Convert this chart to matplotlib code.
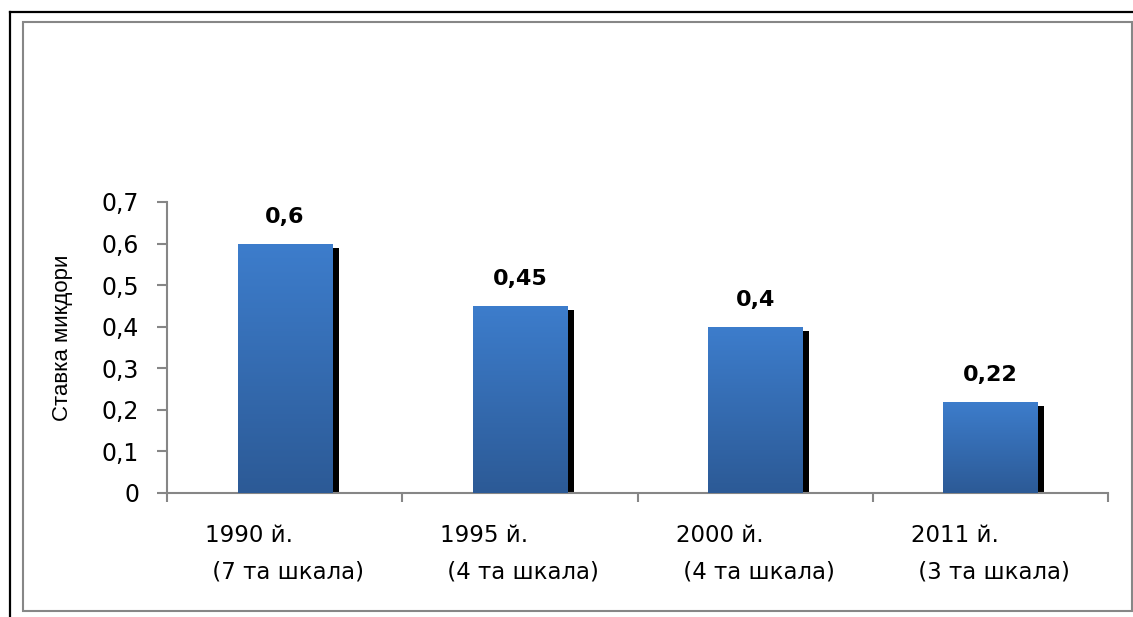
import numpy as np
import matplotlib
matplotlib.use('Agg')
import matplotlib.pyplot as plt
from matplotlib import font_manager
from matplotlib.patches import Rectangle
from matplotlib.lines import Line2D
import matplotlib.transforms as mtransforms
from matplotlib.colors import LinearSegmentedColormap

# ---- data ----
categories = ["1990 й.\n (7 та шкала)", "1995 й.\n (4 та шкала)",
              "2000 й.\n (4 та шкала)", "2011 й.\n (3 та шкала)"]
values = [0.6, 0.45, 0.4, 0.22]
value_labels = ["0,6", "0,45", "0,4", "0,22"]
y_ticks = [0.0, 0.1, 0.2, 0.3, 0.4, 0.5, 0.6, 0.7]
y_tick_labels = ["0", "0,1", "0,2", "0,3", "0,4", "0,5", "0,6", "0,7"]
y_label = "Ставка микдори"

W, H = 1133, 617
fig = plt.figure(figsize=(W / 100, H / 100), dpi=100)
fig.patch.set_facecolor('white')

# frames
fig.add_artist(Line2D([10 / W, 1], [1 - 12 / H, 1 - 12 / H], transform=fig.transFigure,
                      color='black', lw=1.6))
fig.add_artist(Line2D([10 / W, 10 / W], [0, 1 - 12 / H], transform=fig.transFigure,
                      color='black', lw=1.6))
fig.add_artist(Rectangle((23 / W, 1 - 611 / H), (1132 - 23) / W, (611 - 22) / H,
                         transform=fig.transFigure, fill=False, ec='#878787', lw=1.5))

ax = fig.add_axes([167 / W, 1 - 493 / H, (1108 - 167) / W, (493 - 202) / H])
x = np.arange(len(values))
bar_w = 0.4

shadow_tr = ax.transData + mtransforms.ScaledTranslation(7 / 100, -4 / 100, fig.dpi_scale_trans)
shadows = ax.bar(x, values, width=bar_w, color='black', zorder=1, linewidth=0)
for s in shadows:
    s.set_transform(shadow_tr)

bars = ax.bar(x, values, width=bar_w, color='#3570B8', zorder=2, linewidth=0)
cmap = LinearSegmentedColormap.from_list('g', ['#2C5A96', '#3D7DCC'])
grad = np.linspace(0, 1, 256).reshape(-1, 1)
for b in bars:
    x0, w, h = b.get_x(), b.get_width(), b.get_height()
    im = ax.imshow(grad, extent=(x0, x0 + w, 0, h), origin='lower', aspect='auto',
                   cmap=cmap, zorder=3, interpolation='bilinear')
    im.set_clip_path(b)

for xi, v, lbl in zip(x, values, value_labels):
    ax.annotate(lbl, (xi, v), xytext=(0, 12), textcoords='offset points',
                ha='center', va='bottom', fontsize=16, fontweight='bold', color='black')

ax.set_xlim(-0.5, len(values) - 0.5)
ax.set_ylim(0, 0.7)

for sp in ['top', 'right']:
    ax.spines[sp].set_visible(False)
for sp in ['left', 'bottom']:
    ax.spines[sp].set_color('#868686')
    ax.spines[sp].set_linewidth(1.5)

ax.set_yticks(y_ticks)
ax.set_yticklabels(y_tick_labels, fontsize=17)
ax.tick_params(axis='y', direction='out', length=7, width=1.5, color='#868686', pad=13)

ax.set_xticks(np.arange(-0.5, len(values), 1.0))
ax.set_xticklabels([])
ax.tick_params(axis='x', which='major', direction='out', length=6.5, width=1.5, color='#868686')
ax.set_xticks(x, minor=True)
ax.set_xticklabels(categories, minor=True, fontsize=16.5)
ax.tick_params(axis='x', which='minor', length=0, pad=22)
for t in ax.get_xticklabels(minor=True):
    t.set_multialignment('left')
    t.set_linespacing(1.8)

names = {f.name for f in font_manager.fontManager.ttflist}
yfam = 'Liberation Sans Narrow' if 'Liberation Sans Narrow' in names else 'Liberation Sans'
ax.set_ylabel(y_label, fontsize=16, family=yfam)
ax.yaxis.set_label_coords(-0.10, 0.533)

fig.savefig('out.png', dpi=100, facecolor='white')
